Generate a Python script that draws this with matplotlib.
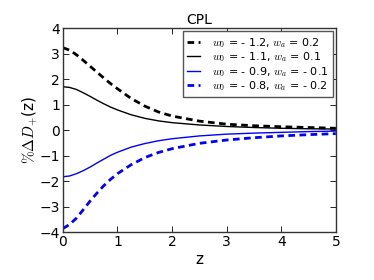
import matplotlib
matplotlib.use("Agg")
import matplotlib.pyplot as plt

# values (percent change of growth factor)
z = [0.0, 0.125, 0.25, 0.375, 0.5, 0.625, 0.75, 0.875, 1.0, 1.25, 1.5, 1.75,
     2.0, 2.5, 3.0, 3.5, 4.0, 4.5, 5.0]
d_12_02 = [3.23, 3.13, 2.95, 2.73, 2.50, 2.27, 2.04, 1.82, 1.62, 1.24, 0.94, 0.71,
           0.55, 0.35, 0.23, 0.17, 0.13, 0.10, 0.07]
d_11_01 = [1.70, 1.67, 1.59, 1.46, 1.32, 1.17, 1.03, 0.90, 0.79, 0.60, 0.46, 0.36,
           0.29, 0.20, 0.14, 0.10, 0.07, 0.05, 0.04]
d_09_m01 = [-1.83, -1.80, -1.71, -1.59, -1.45, -1.29, -1.14, -0.99, -0.87, -0.67,
            -0.53, -0.42, -0.34, -0.23, -0.16, -0.12, -0.09, -0.06, -0.04]
d_08_m02 = [-3.86, -3.70, -3.45, -3.12, -2.78, -2.47, -2.18, -1.93, -1.71, -1.36,
            -1.08, -0.88, -0.73, -0.52, -0.39, -0.30, -0.23, -0.18, -0.14]

labels = [
    r"$w_0$ = - 1.2, $w_a$ = 0.2",
    r"$w_0$ = - 1.1, $w_a$ = 0.1",
    r"$w_0$ = - 0.9, $w_a$ = - 0.1",
    r"$w_0$ = - 0.8, $w_a$ = - 0.2",
]

plt.rcParams["mathtext.fontset"] = "cm"
plt.rcParams["xtick.direction"] = "in"
plt.rcParams["ytick.direction"] = "in"
plt.rcParams["xtick.top"] = True
plt.rcParams["ytick.right"] = True

fig = plt.figure(figsize=(3.74, 2.8), dpi=100)
ax = fig.add_axes([0.168, 0.171, 0.730, 0.729])

ax.plot(z, d_12_02, "k--", lw=2, dashes=(2.4, 1.6), label=labels[0])
ax.plot(z, d_11_01, "k-", lw=1, label=labels[1])
ax.plot(z, d_09_m01, "b-", lw=1, label=labels[2])
ax.plot(z, d_08_m02, "b--", lw=2, dashes=(2.4, 1.6), label=labels[3])

ax.set_xlim(0, 5)
ax.set_ylim(-4, 4)
ax.set_xticks(range(0, 6))
ax.set_yticks(range(-4, 5))
ax.tick_params(labelsize=10, pad=2, length=4, width=0.6)
for s in ax.spines.values():
    s.set_linewidth(1.0)
    s.set_color("#333333")

ax.set_title("CPL", fontsize=10, pad=3)
ax.set_xlabel("z", fontsize=11, labelpad=2)
ax.set_ylabel(r"$\%\Delta D_{+}$(z)", fontsize=11, labelpad=0)

leg = ax.legend(loc="upper right", fontsize=8, handlelength=1.2,
                handletextpad=1.0, labelspacing=0.05, borderpad=0.4,
                fancybox=False, framealpha=1, borderaxespad=0.3)
leg.get_frame().set_edgecolor("#555555")
leg.get_frame().set_linewidth(1.0)

fig.savefig("out.png", dpi=100)
